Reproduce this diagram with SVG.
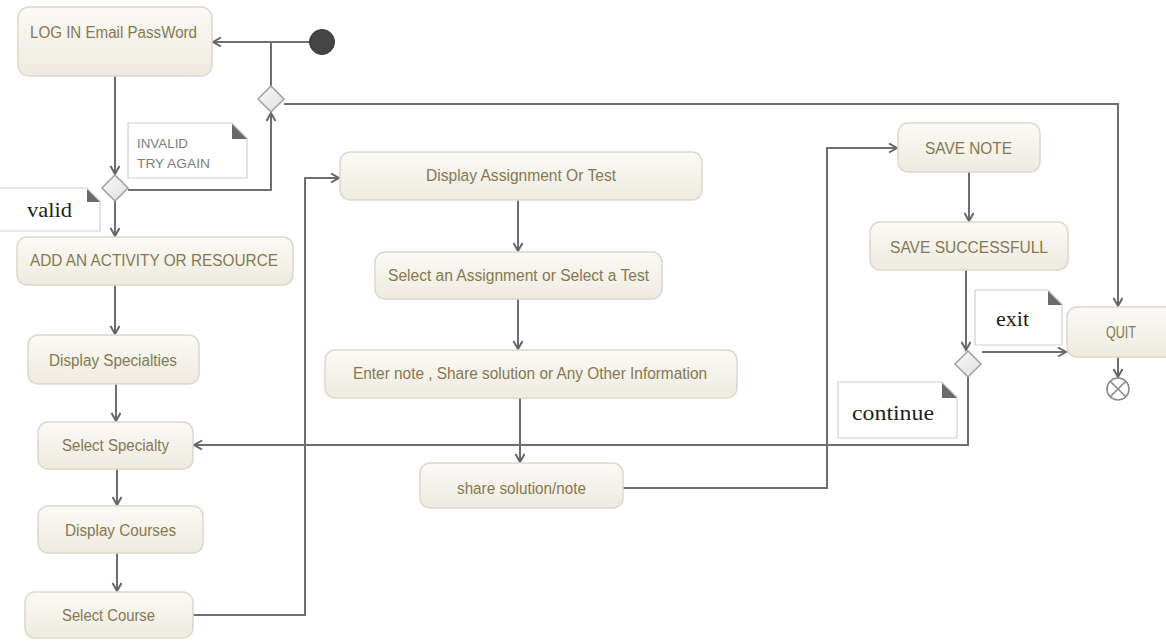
<svg xmlns="http://www.w3.org/2000/svg" width="1166" height="642" viewBox="0 0 1166 642">
  <defs>
    <linearGradient id="actFill" x1="0" y1="0" x2="0" y2="1">
      <stop offset="0" stop-color="#fbfaf6"/>
      <stop offset="1" stop-color="#eeeadf"/>
    </linearGradient>
    <linearGradient id="decFill" x1="0" y1="0" x2="1" y2="1">
      <stop offset="0" stop-color="#fafafa"/>
      <stop offset="1" stop-color="#dedede"/>
    </linearGradient>
    <marker id="arrow" markerUnits="userSpaceOnUse" markerWidth="12" markerHeight="12" refX="9" refY="5" orient="auto">
      <path d="M1,0.5 L9,5 L1,9.5" fill="none" stroke="#666" stroke-width="2"/>
    </marker>
    <style>
      .act rect { fill: url(#actFill); stroke: #ddd8cb; stroke-width: 1.5; }
      .act text { font-family: "Liberation Sans", Arial, sans-serif; font-size: 16px; fill: #867852; }
      .dec polygon { fill: url(#decFill); stroke: #a0a0a0; stroke-width: 1.5; }
      .note path.body { fill: #ffffff; stroke: #cfcfcf; stroke-width: 1.2; }
      .note path.fold { fill: #6a6a6a; }
      .note text.serif { font-family: "Liberation Serif", "Times New Roman", serif; font-size: 21px; fill: #1e1e1e; }
      .note text.sans { font-family: "Liberation Sans", Arial, sans-serif; font-size: 13.5px; fill: #7c7c7c; }
      .conn path { fill: none; stroke: #6e6e6e; stroke-width: 2; }
      .conn path.arr { marker-end: url(#arrow); }
    </style>
  </defs>

  <rect width="1166" height="642" fill="#ffffff"/>

  <!-- connectors -->
  <g id="connectors" class="conn">
    <path class="arr" d="M309,42 L213,42"/>
    <path d="M271,42 L271,86"/>
    <path class="arr" d="M284,104 L1118,104 L1118,306"/>
    <path class="arr" d="M115,76 L115,174"/>
    <path class="arr" d="M128,190 L271,190 L271,113"/>
    <path class="arr" d="M115,201 L115,236"/>
    <path class="arr" d="M115,285 L115,334"/>
    <path class="arr" d="M116,384 L116,421"/>
    <path class="arr" d="M117,469 L117,505"/>
    <path class="arr" d="M117,553 L117,591"/>
    <path class="arr" d="M193,615 L305,615 L305,178 L339,178"/>
    <path class="arr" d="M518,200 L518,251"/>
    <path class="arr" d="M518,299 L518,349"/>
    <path class="arr" d="M520,398 L520,462"/>
    <path class="arr" d="M623,488 L827,488 L827,148 L897,148"/>
    <path class="arr" d="M969,172 L969,221"/>
    <path class="arr" d="M966,270 L966,350"/>
    <path class="arr" d="M982,352 L1066,352"/>
    <path class="arr" d="M968,377 L968,445 L194,445"/>
    <path class="arr" d="M1118,357 L1118,377"/>
  </g>

  <!-- initial node -->
  <g id="start">
    <circle cx="322" cy="42" r="12.5" fill="#454545" stroke="#333" stroke-width="1"/>
  </g>

  <!-- final node -->
  <g id="final">
    <circle cx="1118" cy="389" r="11" fill="#ffffff" stroke="#8a8a8a" stroke-width="1.6"/>
    <path d="M1110.2,381.2 L1125.8,396.8 M1125.8,381.2 L1110.2,396.8" stroke="#8a8a8a" stroke-width="1.6"/>
  </g>

  <!-- activities -->
  <g id="login" class="act">
    <rect x="18" y="7" width="194" height="69" rx="11"/>
    <text x="30" y="38" textLength="167" lengthAdjust="spacingAndGlyphs">LOG IN Email PassWord</text>
  </g>
  <g id="add-activity" class="act">
    <rect x="17" y="237" width="276" height="48" rx="10"/>
    <text x="30" y="266" textLength="248" lengthAdjust="spacingAndGlyphs">ADD AN ACTIVITY OR RESOURCE</text>
  </g>
  <g id="display-specialties" class="act">
    <rect x="28" y="335" width="171" height="49" rx="10"/>
    <text x="49" y="366" textLength="128" lengthAdjust="spacingAndGlyphs">Display Specialties</text>
  </g>
  <g id="select-specialty" class="act">
    <rect x="38" y="422" width="155" height="47" rx="10"/>
    <text x="62" y="451" textLength="107" lengthAdjust="spacingAndGlyphs">Select Specialty</text>
  </g>
  <g id="display-courses" class="act">
    <rect x="38" y="506" width="165" height="47" rx="10"/>
    <text x="65" y="536" textLength="111" lengthAdjust="spacingAndGlyphs">Display Courses</text>
  </g>
  <g id="select-course" class="act">
    <rect x="25" y="592" width="168" height="46" rx="10"/>
    <text x="62" y="621" textLength="93" lengthAdjust="spacingAndGlyphs">Select Course</text>
  </g>
  <g id="display-assignment" class="act">
    <rect x="340" y="152" width="362" height="48" rx="10"/>
    <text x="426" y="181" textLength="190" lengthAdjust="spacingAndGlyphs">Display Assignment Or Test</text>
  </g>
  <g id="select-assignment" class="act">
    <rect x="375" y="252" width="287" height="47" rx="10"/>
    <text x="388" y="281" textLength="261" lengthAdjust="spacingAndGlyphs">Select an Assignment or Select a Test</text>
  </g>
  <g id="enter-note" class="act">
    <rect x="325" y="350" width="412" height="48" rx="10"/>
    <text x="353" y="379" textLength="354" lengthAdjust="spacingAndGlyphs">Enter note , Share solution or Any Other Information</text>
  </g>
  <g id="share-solution" class="act">
    <rect x="420" y="463" width="203" height="45" rx="10"/>
    <text x="457" y="494" textLength="129" lengthAdjust="spacingAndGlyphs">share solution/note</text>
  </g>
  <g id="save-note" class="act">
    <rect x="898" y="123" width="142" height="49" rx="10"/>
    <text x="925" y="154" textLength="87" lengthAdjust="spacingAndGlyphs">SAVE NOTE</text>
  </g>
  <g id="save-successfull" class="act">
    <rect x="870" y="222" width="198" height="48" rx="10"/>
    <text x="890" y="253" textLength="158" lengthAdjust="spacingAndGlyphs">SAVE SUCCESSFULL</text>
  </g>
  <g id="quit" class="act">
    <rect x="1067" y="307" width="110" height="50" rx="10"/>
    <text x="1106" y="338" textLength="30" lengthAdjust="spacingAndGlyphs">QUIT</text>
  </g>

  <!-- decisions -->
  <g id="login-check" class="dec">
    <polygon points="115,175 128,188 115,201 102,188"/>
  </g>
  <g id="retry-merge" class="dec">
    <polygon points="271,86 284,99 271,112 258,99"/>
  </g>
  <g id="exit-check" class="dec">
    <polygon points="968,351 981,364 968,377 955,364"/>
  </g>

  <!-- notes -->
  <g id="note-invalid" class="note">
    <path class="body" d="M128,123 H232 L247,138 V178 H128 Z"/>
    <path class="fold" d="M232,124 V139 H247 Z"/>
    <text class="sans" x="137" y="148" textLength="51" lengthAdjust="spacingAndGlyphs">INVALID</text>
    <text class="sans" x="137" y="168" textLength="73" lengthAdjust="spacingAndGlyphs">TRY AGAIN</text>
  </g>
  <g id="note-valid" class="note">
    <path class="body" d="M-1,188 H87 L100,201 V231 H-1 Z"/>
    <path class="fold" d="M87,189 V202 H100 Z"/>
    <text class="serif" x="27" y="217" textLength="45" lengthAdjust="spacingAndGlyphs">valid</text>
  </g>
  <g id="note-exit" class="note">
    <path class="body" d="M975,290 H1048 L1062,304 V345 H975 Z"/>
    <path class="fold" d="M1048,291 V305 H1062 Z"/>
    <text class="serif" x="996" y="326" textLength="33" lengthAdjust="spacingAndGlyphs">exit</text>
  </g>
  <g id="note-continue" class="note">
    <path class="body" d="M838,382 H942 L957,397 V438 H838 Z"/>
    <path class="fold" d="M942,383 V398 H957 Z"/>
    <text class="serif" x="852" y="420" textLength="82" lengthAdjust="spacingAndGlyphs">continue</text>
  </g>
</svg>
